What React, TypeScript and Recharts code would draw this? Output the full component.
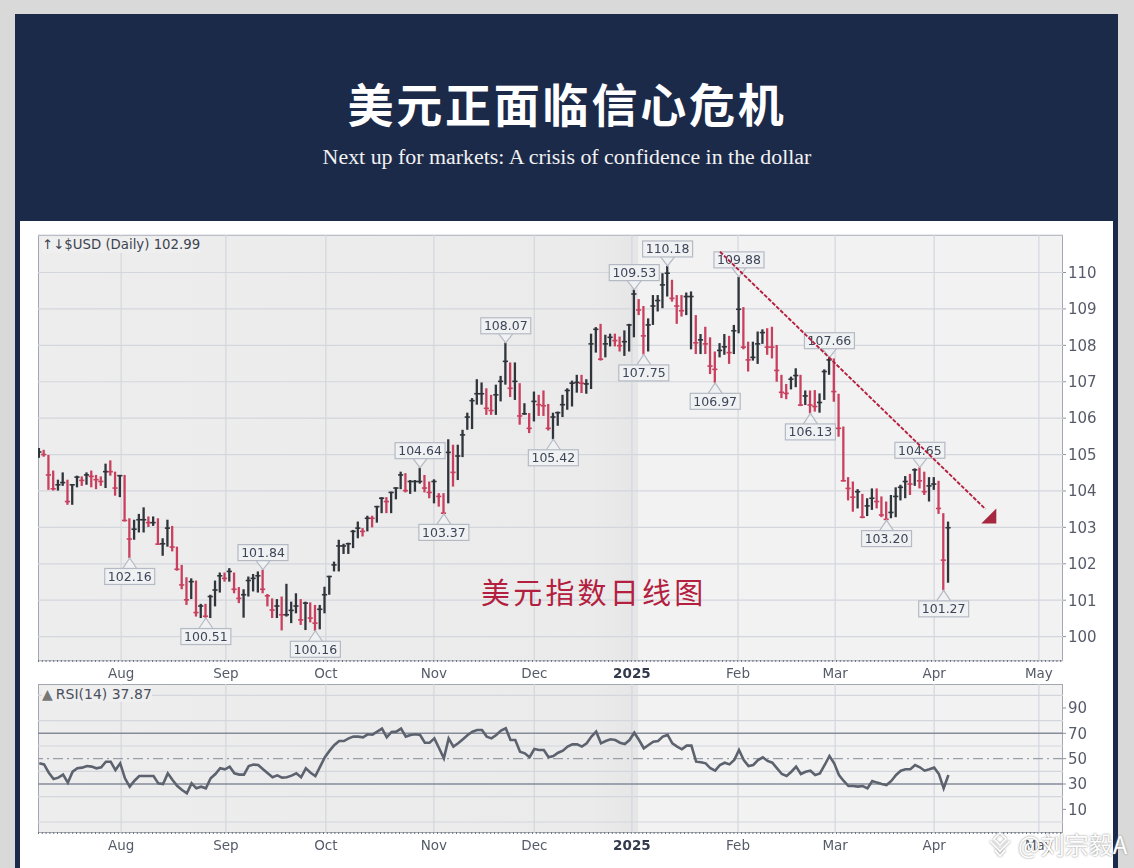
import { Bar, CartesianGrid, ComposedChart, Line, ReferenceDot, ReferenceLine, XAxis, YAxis } from "recharts";

// daily $USD bars, left to right
const highs = [
  105.18, 105.13, 104.99, 104.56, 104.31, 104.51, 104.31, 104.17, 104.42, 104.40, 104.51, 104.56, 104.44, 104.40, 104.75, 104.84,
  104.53, 104.44, 104.44, 103.25, 103.21, 103.37, 103.55, 103.30, 103.30, 103.25, 102.70, 103.21, 103.04, 102.47, 101.97, 101.63,
  101.60, 101.54, 100.90, 100.90, 101.15, 101.54, 101.76, 101.76, 101.88, 101.76, 101.36, 101.30, 101.65, 101.72, 101.79, 101.84,
  101.17, 101.05, 101.03, 101.10, 101.45, 100.96, 101.19, 101.03, 100.96, 100.94, 100.87, 100.87, 101.37, 101.67, 102.06, 102.66,
  102.55, 102.58, 102.93, 103.16, 102.98, 103.32, 103.32, 103.59, 103.83, 103.83, 103.98, 104.10, 104.53, 104.49, 104.30, 104.30,
  104.64, 104.44, 104.26, 104.32, 103.94, 103.94, 105.42, 105.27, 105.27, 105.68, 106.15, 106.55, 107.07, 106.98, 106.82, 106.64,
  106.92, 107.16, 108.07, 107.53, 107.53, 106.96, 106.41, 106.14, 106.73, 106.64, 106.76, 106.39, 106.15, 106.18, 106.64, 106.82,
  107.03, 107.19, 107.19, 107.07, 108.32, 108.50, 108.59, 108.29, 108.32, 108.32, 108.24, 108.41, 108.59, 109.53, 109.27, 109.08,
  108.74, 109.38, 109.38, 109.98, 110.18, 109.80, 109.38, 109.38, 109.45, 109.48, 108.83, 108.31, 108.51, 108.22, 107.83, 108.06,
  108.31, 108.26, 108.56, 109.88, 109.05, 108.10, 108.10, 108.38, 108.44, 108.47, 108.51, 108.01, 107.19, 106.94, 107.14, 107.37,
  107.19, 106.76, 106.76, 106.77, 106.68, 107.34, 107.66, 107.64, 106.67, 105.77, 104.38, 104.26, 104.05, 103.92, 103.80, 104.07,
  104.07, 103.85, 103.71, 103.89, 104.10, 104.17, 104.41, 104.47, 104.62, 104.65, 104.53, 104.38, 104.38, 104.28, 103.39, 103.16,
];
const lows = [
  104.91, 104.94, 104.03, 104.01, 104.01, 104.14, 103.62, 103.62, 104.10, 104.14, 104.17, 104.10, 104.05, 104.14, 104.08, 104.42,
  103.87, 103.83, 103.16, 102.16, 102.66, 102.86, 102.86, 103.01, 103.04, 102.52, 102.22, 102.47, 102.34, 101.81, 101.30, 100.87,
  101.03, 100.55, 100.51, 100.51, 100.51, 100.83, 101.21, 101.51, 101.51, 101.19, 100.92, 100.52, 101.10, 101.24, 101.21, 101.19,
  100.83, 100.51, 100.51, 100.17, 100.55, 100.37, 100.64, 100.32, 100.18, 100.39, 100.16, 100.20, 100.64, 101.15, 101.79, 101.79,
  102.27, 102.27, 102.43, 102.70, 102.75, 102.89, 103.00, 103.13, 103.39, 103.39, 103.39, 103.77, 104.05, 103.96, 103.92, 103.98,
  104.20, 103.96, 103.80, 103.66, 103.57, 103.37, 103.66, 104.12, 104.30, 104.93, 105.68, 105.70, 106.37, 106.37, 106.09, 106.09,
  106.09, 106.46, 106.92, 106.58, 106.50, 105.82, 106.09, 105.59, 105.91, 106.06, 106.06, 105.66, 105.42, 105.79, 106.03, 106.23,
  106.32, 106.70, 106.69, 106.67, 106.80, 107.80, 107.58, 107.67, 107.97, 107.97, 107.83, 107.71, 107.83, 108.22, 108.83, 107.75,
  107.83, 108.56, 108.93, 109.02, 109.34, 109.20, 108.59, 108.79, 108.83, 107.89, 107.76, 107.76, 107.76, 107.21, 106.97, 107.67,
  107.74, 107.49, 107.76, 108.33, 107.89, 107.28, 107.58, 107.49, 108.04, 107.74, 107.64, 107.00, 106.55, 106.52, 106.79, 106.85,
  106.33, 106.36, 106.13, 106.18, 106.15, 106.50, 107.19, 106.45, 105.49, 104.26, 103.74, 103.43, 103.52, 103.25, 103.31, 103.48,
  103.52, 103.28, 103.20, 103.25, 103.28, 103.74, 103.80, 103.89, 104.14, 104.07, 103.89, 103.71, 104.03, 103.37, 101.27, 101.48,
];
const closes = [
  105.07, 105.00, 104.44, 104.06, 104.17, 104.23, 103.71, 104.17, 104.38, 104.29, 104.44, 104.40, 104.31, 104.26, 104.53, 104.53,
  104.08, 104.42, 103.19, 102.68, 102.95, 103.21, 103.21, 103.13, 103.13, 102.54, 102.55, 102.98, 102.46, 101.85, 101.42, 101.01,
  101.51, 100.66, 100.84, 100.56, 101.10, 101.28, 101.67, 101.60, 101.79, 101.30, 101.05, 101.15, 101.54, 101.60, 101.67, 101.30,
  101.12, 100.73, 100.84, 100.60, 100.60, 100.72, 100.84, 100.46, 100.92, 100.51, 100.37, 100.75, 101.15, 101.65, 101.97, 102.49,
  102.49, 102.55, 102.89, 102.98, 102.89, 103.25, 103.25, 103.57, 103.80, 103.71, 103.96, 104.08, 104.44, 104.01, 104.26, 104.26,
  104.26, 104.08, 103.96, 104.26, 103.85, 103.39, 105.06, 104.51, 104.96, 105.54, 106.03, 106.48, 106.67, 106.67, 106.27, 106.21,
  106.64, 107.01, 107.56, 106.82, 107.01, 106.06, 106.12, 105.72, 106.46, 106.37, 106.34, 105.72, 106.03, 106.15, 106.37, 106.76,
  106.96, 106.98, 106.96, 106.94, 108.04, 108.44, 107.62, 108.04, 108.22, 108.13, 107.99, 108.10, 108.56, 109.41, 108.97, 108.26,
  108.56, 109.08, 109.23, 109.66, 109.98, 109.29, 109.08, 108.95, 109.34, 109.34, 108.07, 108.15, 108.04, 107.43, 107.34, 107.86,
  107.96, 107.80, 108.40, 108.99, 107.95, 107.60, 107.67, 108.04, 108.35, 107.95, 107.95, 107.31, 106.71, 106.68, 107.07, 107.17,
  106.36, 106.61, 106.36, 106.32, 106.43, 107.28, 107.60, 106.73, 105.72, 104.28, 104.07, 103.83, 103.98, 103.28, 103.59, 103.80,
  103.71, 103.34, 103.22, 103.41, 103.85, 104.10, 104.26, 104.19, 104.58, 104.28, 103.98, 104.14, 104.19, 103.52, 102.10, 102.99,
];
// days that finished red
const downDays = [
  1, 2, 3, 6, 9, 11, 12, 13, 15, 16, 18, 19, 23, 25, 28, 29, 30, 31, 33, 35, 39, 41, 42, 47, 48, 49, 51, 55, 57, 58, 68, 70, 73, 77, 81, 82,
  84, 85, 87, 94, 95, 99, 101, 103, 105, 106, 107, 114, 118, 121, 122, 126, 127, 133, 134, 135, 138, 140, 141, 142, 145, 148, 149, 153, 154,
  155, 156, 157, 160, 162, 163, 167, 168, 169, 170, 171, 173, 176, 177, 178, 183, 185, 186, 189, 190,
];
const rsiValues = [
  46.3, 45.5, 38.9, 33.9, 35, 37.4, 31, 39.7, 42.4, 42.9, 44.2, 43.7, 42.4, 43.2, 47.6, 47.6, 41, 46.3, 34.5, 27.9, 32.6, 36.3, 36.3, 36.3,
  36.3, 30.5, 30, 38.4, 33.2, 28.4, 25.3, 22.6, 30.5, 26.6, 27.9, 26.6, 34.5, 37.9, 42.4, 41.6, 43.7, 38.4, 37.4, 37.4, 44.2, 45.3, 45, 41.6,
  38.4, 35.3, 36.8, 35, 35.3, 36.6, 38.4, 35.3, 42.4, 38.9, 36.3, 43.7, 51.1, 56.3, 60.8, 63.9, 63.9, 66, 67.4, 67.4, 66.8, 69.2, 68.9, 71.3,
  73.7, 66.8, 71.1, 71.3, 73.7, 67.4, 68.7, 69.2, 68.7, 62.6, 62.6, 66, 58.2, 50.3, 66, 59.5, 62.1, 65.3, 68.7, 71.3, 72.6, 72.6, 67.4, 66,
  68.7, 72.1, 73.9, 64.7, 64.7, 55.5, 54.2, 51.1, 57.6, 56.8, 56.8, 51.1, 52.1, 54.7, 56.3, 59.5, 61.3, 61.3, 59.5, 62.1, 67.4, 71.3, 62.1,
  63.9, 65.3, 64.7, 62.6, 61.6, 64.7, 70.5, 64.7, 58.2, 60.8, 63.4, 63.9, 67.4, 68.7, 62.1, 59.5, 57.4, 60.3, 60.3, 47.6, 47.1, 46.3, 42.4,
  40.5, 45, 46.8, 45.5, 48.9, 56.8, 48.9, 44.2, 45, 48.9, 51.1, 48.2, 46.8, 42.4, 37.9, 36.3, 39.7, 43.7, 37.9, 39.7, 40.5, 37.1, 38.4, 45,
  52.1, 46.3, 37.1, 32.4, 28.4, 28.4, 27.9, 28.4, 26.6, 32.4, 31.1, 30, 29.2, 32.4, 37.1, 40.5, 41.6, 41.6, 45, 43.2, 40.5, 41.6, 42.9, 37.9,
  26.6, 37.1,
];

const monthTicks = [17.2, 39.2, 60.2, 82.9, 104, 124.5, 146.8, 167.2, 188, 210];
const monthLabels = ["Aug", "Sep", "Oct", "Nov", "Dec", "2025", "Feb", "Mar", "Apr", "May"];
const priceTicks = [100, 101, 102, 103, 104, 105, 106, 107, 108, 109, 110];
const rsiTicks = [10, 30, 50, 70, 90];
const rsiGrid = [0, 10, 20, 40, 60, 80, 90, 100];

const calloutDays = [19, 35, 47, 58, 80, 85, 98, 108, 125, 127, 132, 142, 147, 162, 166, 178, 185, 190];
const calloutValues = [102.16, 100.51, 101.84, 100.16, 104.64, 103.37, 108.07, 105.42, 109.53, 107.75, 110.18, 106.97, 109.88, 106.13, 107.66, 103.2, 104.65, 101.27];

const trendStart = { day: 143, value: 110.57 };
const trendEnd = { day: 198.8, value: 103.5 };

const rows = highs.map((high, i) => ({
  day: i,
  range: [lows[i], high],
  close: closes[i],
  down: downDays.includes(i),
  rsi: rsiValues[i],
}));

const dayDomain: [number, number] = [-0.27, 215.07];
const axisFont = "'DejaVu Sans', sans-serif";
const RED = "#c9405f";
const BLACK = "#30343b";

function OhlcBar(props: any) {
  const { x, y, width, height, payload } = props;
  const mid = x + width / 2;
  const [low, high] = payload.range;
  const closeY = y + ((high - payload.close) / (high - low)) * height;
  const color = payload.down ? RED : BLACK;
  return (
    <g stroke={color}>
      <line x1={mid} x2={mid} y1={y} y2={y + height} strokeWidth={2.3} />
      <line x1={mid - 2.6} x2={mid + 2.6} y1={closeY} y2={closeY} strokeWidth={1.6} />
    </g>
  );
}

function Callout(props: any) {
  const { cx, cy, value, below } = props;
  const dir = below ? 1 : -1;
  const near = cy + dir * (below ? 10.5 : 9);
  const boxY = below ? near : near - 16;
  return (
    <g>
      <polyline
        points={`${cx - 7},${near} ${cx},${cy} ${cx + 7},${near}`}
        fill="#f0f1f3"
        stroke="#b4bac4"
        strokeWidth={1.2}
      />
      <rect x={cx - 25} y={boxY} width={50} height={16} fill="#f0f1f3" stroke="#b4bac4" strokeWidth={1.2} />
      <text x={cx} y={boxY + 12.5} textAnchor="middle" fontSize={12.5} fontFamily={axisFont} fill="#3d4658">
        {value.toFixed(2)}
      </text>
    </g>
  );
}

function ArrowHead(props: any) {
  const { cx, cy } = props;
  return <polygon points={`${cx - 9},${cy + 7} ${cx + 6},${cy - 8} ${cx + 6},${cy + 7}`} fill="#a5283f" />;
}

function MonthTick(props: any) {
  const { x, y, payload } = props;
  const label = monthLabels[monthTicks.indexOf(payload.value)];
  const isYear = label === "2025";
  return (
    <text
      x={x}
      y={y + 9}
      textAnchor="middle"
      fontFamily={axisFont}
      fontSize={13.5}
      fontWeight={isYear ? 700 : 400}
      fill={isYear ? "#333a4c" : "#555b68"}
    >
      {label}
    </text>
  );
}

function PriceChart() {
  return (
    <ComposedChart
      width={1134}
      height={460}
      data={rows}
      margin={{ top: 10, right: 21, bottom: 0, left: 38 }}
      barCategoryGap={0}
    >
      <CartesianGrid stroke="#d3d6dd" strokeWidth={1.2} verticalValues={monthTicks} />
      <XAxis
        dataKey="day"
        type="number"
        domain={dayDomain}
        allowDataOverflow
        ticks={monthTicks}
        tick={<MonthTick />}
        tickLine={false}
        axisLine={{ stroke: "#6f7480", strokeDasharray: "1 2.8", strokeWidth: 2 }}
        height={24}
      />
      <YAxis
        orientation="right"
        domain={[99.33, 111.03]}
        allowDataOverflow
        ticks={priceTicks}
        width={50}
        tickLine={{ stroke: "#8d919c" }}
        tickSize={3}
        axisLine={false}
        tick={{ fontSize: 15, fontFamily: axisFont, fill: "#555b68" }}
      />
      <Bar dataKey="range" barSize={2} shape={<OhlcBar />} isAnimationActive={false} />
      {calloutDays.map((day, i) => {
        const below = Math.abs(lows[day] - calloutValues[i]) < Math.abs(highs[day] - calloutValues[i]);
        return (
          <ReferenceDot
            key={day}
            x={day}
            y={calloutValues[i]}
            shape={(p: any) => <Callout {...p} value={calloutValues[i]} below={below} />}
          />
        );
      })}
      <ReferenceLine
        segment={[
          { x: trendStart.day, y: trendStart.value },
          { x: trendEnd.day, y: trendEnd.value },
        ]}
        stroke="#b3203f"
        strokeWidth={1.9}
        strokeDasharray="4 1.6"
        zIndex={900}
      />
      <ReferenceDot x={trendEnd.day + 1} y={trendEnd.value - 0.2} shape={<ArrowHead />} />
    </ComposedChart>
  );
}

function RsiChart() {
  return (
    <ComposedChart width={1134} height={177} data={rows} margin={{ top: 4, right: 21, bottom: 0, left: 38 }}>
      <CartesianGrid stroke="#d3d6dd" strokeWidth={1.2} verticalValues={monthTicks} horizontalValues={rsiGrid} />
      <XAxis
        dataKey="day"
        type="number"
        domain={dayDomain}
        allowDataOverflow
        ticks={monthTicks}
        tick={<MonthTick />}
        tickLine={false}
        axisLine={{ stroke: "#6f7480", strokeDasharray: "1 2.8", strokeWidth: 2 }}
        height={24}
      />
      <YAxis
        orientation="right"
        domain={[-8.66, 108.9]}
        allowDataOverflow
        ticks={rsiTicks}
        width={50}
        tickLine={{ stroke: "#8d919c" }}
        tickSize={3}
        axisLine={false}
        tick={{ fontSize: 15, fontFamily: axisFont, fill: "#555b68" }}
      />
      <ReferenceLine y={70} stroke="#868b98" strokeWidth={1.6} />
      <ReferenceLine y={30} stroke="#868b98" strokeWidth={1.6} />
      <ReferenceLine y={50} stroke="#9a9ea9" strokeWidth={1.4} strokeDasharray="10 4 2 4" />
      <Line dataKey="rsi" type="linear" stroke="#5c626e" strokeWidth={2.6} dot={false} isAnimationActive={false} />
    </ComposedChart>
  );
}

const plotBack =
  "linear-gradient(90deg, #ededed 0%, #ebebeb 54%, #e6e6e6 58.5%, #f2f2f2 58.6%, #f2f2f2 100%)";

export default function App() {
  return (
    <div style={{ position: "absolute", left: 0, top: 0, width: 1134, height: 868, background: "#d9d9d9", overflow: "hidden" }}>
      <div style={{ position: "absolute", left: 15, top: 14, width: 1103, height: 854, background: "#1c2a4a" }} />
      <div style={{ position: "absolute", left: 20, top: 221, width: 1093, height: 647, background: "#fff" }} />
      <div
        style={{
          position: "absolute",
          left: 0,
          width: 1134,
          top: 70,
          textAlign: "center",
          color: "#fff",
          fontFamily: "'Noto Sans CJK SC', sans-serif",
          fontWeight: 700,
          fontSize: 46,
          letterSpacing: 2.8,
          lineHeight: "64px",
        }}
      >
        美元正面临信心危机
      </div>
      <div
        style={{
          position: "absolute",
          left: 0,
          width: 1134,
          top: 144,
          textAlign: "center",
          color: "#f2f2f2",
          fontFamily: "'Liberation Serif', serif",
          fontSize: 21.9,
          lineHeight: "26px",
        }}
      >
        Next up for markets: A crisis of confidence in the dollar
      </div>

      <div style={{ position: "absolute", left: 38, top: 235, width: 1025, height: 426, background: plotBack, boxShadow: "inset 0 0 0 1px #a3a7b0" }} />
      <div style={{ position: "absolute", left: 38, top: 684, width: 1025, height: 149, background: plotBack, boxShadow: "inset 0 0 0 1px #a3a7b0" }} />

      <div style={{ position: "absolute", left: 0, top: 225, filter: "blur(0.5px)" }}>
        <PriceChart />
      </div>
      <div style={{ position: "absolute", left: 0, top: 680, filter: "blur(0.5px)" }}>
        <RsiChart />
      </div>

      <div style={{ position: "absolute", left: 42, top: 237, fontFamily: axisFont, fontSize: 13.3, color: "#3d4350", background: "#efefef", lineHeight: "16px", whiteSpace: "nowrap" }}>
        ↑↓$USD (Daily) 102.99
      </div>
      <div style={{ position: "absolute", left: 42, top: 686, fontFamily: axisFont, fontSize: 14, color: "#4a505c", background: "#efefef", lineHeight: "16px", whiteSpace: "nowrap" }}>
        <span style={{ color: "#777", marginRight: 3 }}>▲</span>RSI(14) 37.87
      </div>
      <div
        style={{
          position: "absolute",
          left: 481,
          top: 570,
          color: "#b3203f",
          fontFamily: "'Noto Sans CJK SC', sans-serif",
          fontSize: 29,
          letterSpacing: 3.2,
          lineHeight: "42px",
          whiteSpace: "nowrap",
        }}
      >
        美元指数日线图
      </div>
      <div
        style={{
          position: "absolute",
          left: 1018,
          top: 830,
          color: "#fff",
          fontFamily: "'Noto Sans CJK SC', sans-serif",
          fontSize: 24,
          lineHeight: "28px",
          whiteSpace: "nowrap",
          textShadow: "0 0 2px #777",
        }}
      >
        @刘宗毅A
      </div>
      <svg style={{ position: "absolute", left: 986, top: 832 }} width={28} height={26}>
        <g fill="none" stroke="#fff" strokeWidth={1.6} style={{ filter: "drop-shadow(0 0 1px #888)" }}>
          <polygon points="14,1 20,7 14,13 8,7" />
          <polyline points="4,9 14,19 24,9" />
          <polyline points="9,18 14,24 19,18" />
        </g>
      </svg>
    </div>
  );
}
